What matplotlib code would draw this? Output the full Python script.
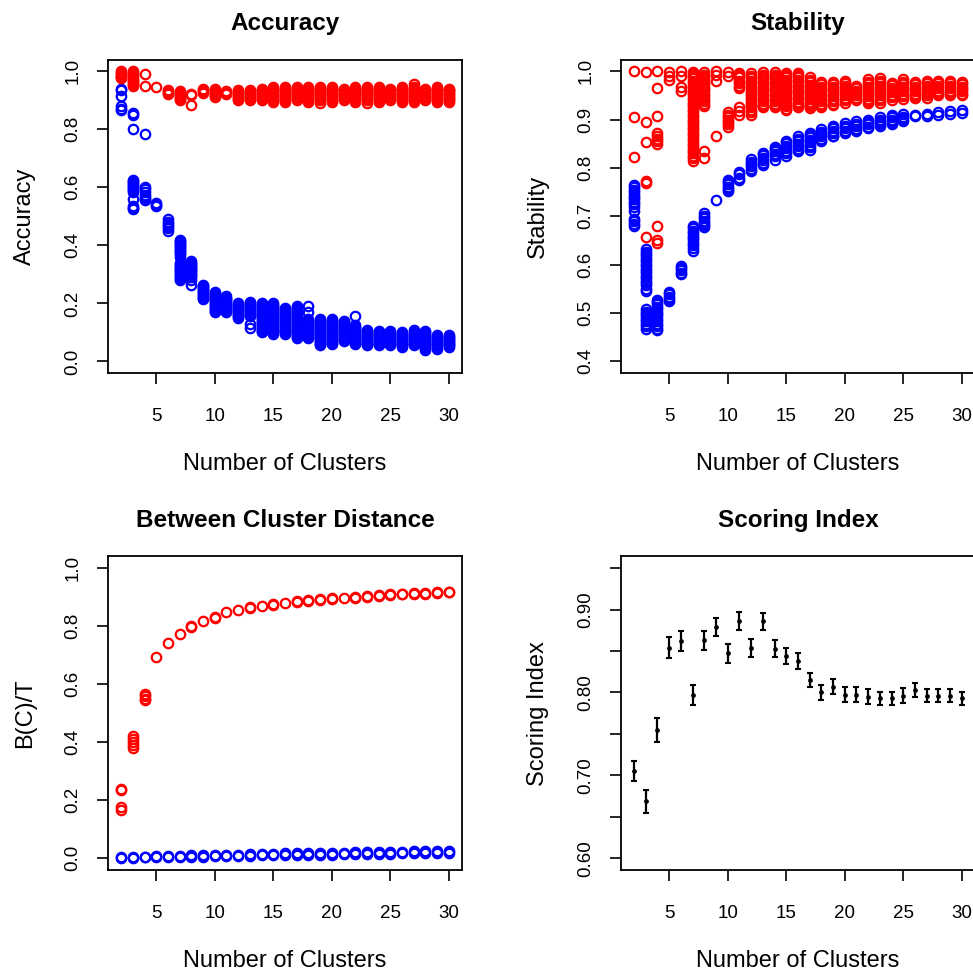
import matplotlib
matplotlib.use("Agg")
import matplotlib.pyplot as plt

plt.rcParams['font.family'] = ['Liberation Sans', 'DejaVu Sans']

# number of clusters on the x axis
ks = list(range(2, 31))

# accuracy, one list of replicate values per k
acc_red = [
    [1.0, 0.995, 0.99, 0.985, 0.98, 0.975],
    [1.0, 0.995, 0.99, 0.985, 0.975, 0.97, 0.965, 0.96, 0.955, 0.95],
    [0.99, 0.95],
    [0.946],
    [0.935, 0.93, 0.925, 0.92],
    [0.93, 0.925, 0.92, 0.915, 0.91, 0.905, 0.90],
    [0.922, 0.918, 0.882],
    [0.94, 0.935, 0.93, 0.925],
    [0.94, 0.935, 0.93, 0.925, 0.92, 0.915, 0.91],
    [0.93, 0.925, 0.92],
    [0.935, 0.93, 0.925, 0.92, 0.915, 0.91, 0.905, 0.90],
    [0.935, 0.93, 0.925, 0.92, 0.915, 0.91, 0.905, 0.90],
    [0.94, 0.935, 0.93, 0.925, 0.92, 0.915, 0.91, 0.905, 0.90],
    [0.945, 0.94, 0.935, 0.93, 0.925, 0.92, 0.915, 0.91, 0.905, 0.90, 0.895],
    [0.945, 0.94, 0.935, 0.93, 0.925, 0.92, 0.915, 0.91, 0.905, 0.90, 0.895],
    [0.945, 0.94, 0.935, 0.93, 0.925, 0.92, 0.915, 0.91, 0.905, 0.90],
    [0.945, 0.94, 0.935, 0.93, 0.925, 0.92, 0.915, 0.91, 0.905, 0.90, 0.895],
    [0.945, 0.94, 0.935, 0.93, 0.925, 0.92, 0.915, 0.91, 0.905, 0.90, 0.89],
    [0.945, 0.94, 0.935, 0.93, 0.925, 0.92, 0.915, 0.91, 0.905, 0.90, 0.895],
    [0.94, 0.935, 0.93, 0.925, 0.92, 0.915, 0.91, 0.905, 0.90],
    [0.945, 0.94, 0.935, 0.93, 0.925, 0.92, 0.915, 0.91, 0.905, 0.90, 0.895],
    [0.945, 0.94, 0.935, 0.93, 0.925, 0.92, 0.915, 0.91, 0.905, 0.90, 0.89],
    [0.945, 0.94, 0.935, 0.93, 0.925, 0.92, 0.915, 0.91, 0.905, 0.90, 0.895],
    [0.94, 0.935, 0.93, 0.925, 0.92, 0.915, 0.91, 0.905, 0.90],
    [0.945, 0.94, 0.935, 0.93, 0.925, 0.92, 0.915, 0.91, 0.905, 0.90, 0.895],
    [0.955, 0.945, 0.94, 0.935, 0.93, 0.925, 0.92, 0.915, 0.91, 0.905, 0.90, 0.895],
    [0.94, 0.935, 0.93, 0.925, 0.92, 0.915, 0.91, 0.905, 0.90],
    [0.945, 0.94, 0.935, 0.93, 0.925, 0.92, 0.915, 0.91, 0.905, 0.90, 0.895],
    [0.94, 0.935, 0.93, 0.925, 0.92, 0.915, 0.91, 0.905, 0.90, 0.895],
]
acc_blue = [
    [0.94, 0.935, 0.915, 0.88, 0.87, 0.865],
    [0.855, 0.85, 0.80, 0.625, 0.62, 0.615, 0.61, 0.605, 0.60, 0.595, 0.59,
     0.585, 0.56, 0.535, 0.53, 0.525],
    [0.785, 0.60, 0.595, 0.585, 0.575, 0.565, 0.56, 0.555],
    [0.545, 0.54, 0.535],
    [0.49, 0.48, 0.475, 0.465, 0.46, 0.45],
    [0.42, 0.415, 0.41, 0.405, 0.40, 0.395, 0.39, 0.385, 0.38, 0.375, 0.37,
     0.36, 0.34, 0.335, 0.33, 0.325, 0.32, 0.315, 0.31, 0.305, 0.30, 0.295,
     0.29, 0.285, 0.28],
    [0.345, 0.34, 0.335, 0.33, 0.325, 0.32, 0.315, 0.31, 0.305, 0.30, 0.295,
     0.29, 0.28, 0.265],
    [0.265, 0.26, 0.255, 0.25, 0.245, 0.24, 0.235, 0.23, 0.225, 0.22, 0.215],
    [0.24, 0.235, 0.23, 0.225, 0.22, 0.215, 0.21, 0.205, 0.20, 0.195, 0.19,
     0.185, 0.18, 0.175, 0.17],
    [0.225, 0.22, 0.215, 0.21, 0.205, 0.20, 0.195, 0.19, 0.185, 0.18, 0.175,
     0.17],
    [0.20, 0.195, 0.19, 0.185, 0.18, 0.175, 0.17, 0.165, 0.16, 0.155, 0.15],
    [0.205, 0.20, 0.195, 0.19, 0.185, 0.18, 0.175, 0.17, 0.165, 0.16, 0.155,
     0.13, 0.115],
    [0.20, 0.195, 0.19, 0.185, 0.18, 0.175, 0.17, 0.165, 0.16, 0.155, 0.15,
     0.145, 0.14, 0.135, 0.13, 0.125, 0.12, 0.115, 0.11, 0.105, 0.10],
    [0.20, 0.195, 0.19, 0.185, 0.18, 0.175, 0.17, 0.165, 0.16, 0.155, 0.15,
     0.145, 0.14, 0.135, 0.13, 0.125, 0.12, 0.115, 0.11, 0.105, 0.10, 0.095],
    [0.185, 0.18, 0.175, 0.17, 0.165, 0.16, 0.155, 0.15, 0.145, 0.14, 0.135,
     0.13, 0.125, 0.12, 0.115, 0.11, 0.105, 0.10, 0.095],
    [0.19, 0.185, 0.18, 0.175, 0.17, 0.165, 0.16, 0.155, 0.15, 0.145, 0.14,
     0.135, 0.13, 0.125, 0.12, 0.115, 0.11, 0.105, 0.10, 0.095, 0.09, 0.085,
     0.08],
    [0.19, 0.17, 0.145, 0.14, 0.135, 0.13, 0.125, 0.12, 0.115, 0.11, 0.105,
     0.10, 0.095, 0.09, 0.085, 0.08],
    [0.145, 0.14, 0.135, 0.13, 0.125, 0.12, 0.115, 0.11, 0.105, 0.10, 0.095,
     0.09, 0.085, 0.08, 0.075, 0.07, 0.065, 0.06, 0.055],
    [0.145, 0.14, 0.135, 0.13, 0.125, 0.12, 0.115, 0.11, 0.105, 0.10, 0.095,
     0.09, 0.085, 0.08, 0.075, 0.07, 0.065, 0.06],
    [0.14, 0.135, 0.13, 0.125, 0.12, 0.115, 0.11, 0.105, 0.10, 0.095, 0.09,
     0.085, 0.08, 0.075, 0.07],
    [0.155, 0.125, 0.12, 0.115, 0.11, 0.105, 0.10, 0.095, 0.09, 0.085, 0.08,
     0.075, 0.07, 0.065, 0.06],
    [0.11, 0.105, 0.10, 0.095, 0.09, 0.085, 0.08, 0.075, 0.07, 0.065, 0.06,
     0.055],
    [0.105, 0.10, 0.095, 0.09, 0.085, 0.08, 0.075, 0.07, 0.065, 0.06, 0.057],
    [0.105, 0.10, 0.095, 0.09, 0.085, 0.08, 0.075, 0.07, 0.065, 0.06, 0.055],
    [0.10, 0.095, 0.09, 0.085, 0.08, 0.075, 0.07, 0.065, 0.06, 0.055, 0.05],
    [0.107, 0.10, 0.095, 0.09, 0.085, 0.08, 0.075, 0.07, 0.065, 0.06, 0.055],
    [0.105, 0.10, 0.095, 0.09, 0.085, 0.08, 0.075, 0.07, 0.065, 0.06, 0.055,
     0.05, 0.045, 0.04],
    [0.09, 0.085, 0.08, 0.075, 0.07, 0.065, 0.06, 0.055, 0.05, 0.044],
    [0.09, 0.085, 0.08, 0.075, 0.07, 0.065, 0.06, 0.055, 0.05],
]

# stability
stab_red = [
    [1.0, 0.905, 0.823],
    [0.998, 0.895, 0.854, 0.773, 0.769, 0.658],
    [1.0, 0.965, 0.907, 0.872, 0.866, 0.86, 0.855, 0.85, 0.68, 0.652, 0.645],
    [0.998, 0.99, 0.982],
    [1.0, 0.99, 0.968, 0.958],
    [0.998, 0.995, 0.99, 0.985, 0.98, 0.975, 0.97, 0.965, 0.96, 0.955, 0.95,
     0.945, 0.94, 0.935, 0.93, 0.925, 0.92, 0.915, 0.91, 0.905, 0.90, 0.895,
     0.89, 0.885, 0.88, 0.875, 0.87, 0.865, 0.86, 0.855, 0.85, 0.845, 0.84,
     0.835, 0.83, 0.825, 0.82, 0.815],
    [0.998, 0.993, 0.988, 0.983, 0.978, 0.973, 0.968, 0.963, 0.958, 0.953,
     0.948, 0.943, 0.938, 0.933, 0.928, 0.836, 0.82],
    [1.0, 0.992, 0.98, 0.865],
    [0.998, 0.99, 0.915, 0.91, 0.905, 0.90, 0.895, 0.89, 0.885],
    [0.997, 0.992, 0.987, 0.98, 0.975, 0.97, 0.965, 0.925, 0.918, 0.91],
    [0.997, 0.99, 0.985, 0.98, 0.975, 0.97, 0.965, 0.96, 0.955, 0.95, 0.945,
     0.94, 0.935, 0.93, 0.925, 0.92, 0.915, 0.91],
    [0.998, 0.993, 0.988, 0.983, 0.978, 0.973, 0.968, 0.963, 0.958, 0.953,
     0.948, 0.943, 0.938, 0.933, 0.928, 0.925],
    [0.998, 0.993, 0.988, 0.983, 0.978, 0.973, 0.968, 0.963, 0.958, 0.953,
     0.948, 0.943, 0.938, 0.933, 0.928, 0.925],
    [0.997, 0.992, 0.987, 0.982, 0.977, 0.972, 0.967, 0.962, 0.957, 0.952,
     0.947, 0.942, 0.937, 0.932, 0.927, 0.922, 0.92],
    [0.997, 0.992, 0.987, 0.982, 0.977, 0.972, 0.967, 0.962, 0.957, 0.952,
     0.947, 0.942, 0.937, 0.932, 0.927, 0.925],
    [0.987, 0.982, 0.977, 0.972, 0.967, 0.962, 0.957, 0.952, 0.947, 0.942,
     0.937, 0.932, 0.927, 0.924],
    [0.978, 0.973, 0.968, 0.963, 0.958, 0.953, 0.948, 0.943, 0.938, 0.933,
     0.928, 0.925],
    [0.978, 0.973, 0.968, 0.963, 0.958, 0.953, 0.948, 0.943, 0.938, 0.933,
     0.93],
    [0.98, 0.975, 0.97, 0.965, 0.96, 0.955, 0.95, 0.945, 0.94, 0.935],
    [0.97, 0.965, 0.96, 0.955, 0.95, 0.945, 0.94],
    [0.983, 0.978, 0.973, 0.968, 0.963, 0.958, 0.953, 0.948, 0.943, 0.938,
     0.935],
    [0.985, 0.98, 0.975, 0.97, 0.965, 0.96, 0.955, 0.95, 0.945, 0.94, 0.935],
    [0.976, 0.971, 0.966, 0.961, 0.956, 0.951, 0.946, 0.94],
    [0.983, 0.978, 0.973, 0.968, 0.963, 0.958, 0.953, 0.948, 0.942],
    [0.978, 0.973, 0.968, 0.963, 0.958, 0.953, 0.948, 0.945],
    [0.98, 0.975, 0.97, 0.965, 0.96, 0.955, 0.95, 0.945],
    [0.98, 0.975, 0.97, 0.965, 0.96, 0.955, 0.95],
    [0.98, 0.975, 0.97, 0.965, 0.96, 0.955, 0.95],
    [0.978, 0.973, 0.968, 0.963, 0.958, 0.953, 0.95],
]
stab_blue = [
    [0.765, 0.76, 0.755, 0.75, 0.745, 0.74, 0.735, 0.73, 0.725, 0.72, 0.71,
     0.695, 0.69, 0.685, 0.68],
    [0.632, 0.627, 0.622, 0.617, 0.612, 0.607, 0.602, 0.597, 0.592, 0.587,
     0.582, 0.577, 0.572, 0.567, 0.562, 0.557, 0.55, 0.545,
     0.508, 0.503, 0.498, 0.493, 0.488, 0.483, 0.478, 0.473, 0.468],
    [0.528, 0.523, 0.518, 0.513, 0.508, 0.503, 0.498, 0.493, 0.488, 0.483,
     0.478, 0.473, 0.468, 0.465],
    [0.544, 0.539, 0.534, 0.529, 0.524],
    [0.598, 0.593, 0.588, 0.583, 0.58],
    [0.68, 0.675, 0.67, 0.665, 0.66, 0.655, 0.65, 0.645, 0.64, 0.635, 0.628],
    [0.706, 0.701, 0.696, 0.691, 0.686, 0.681, 0.677],
    [0.734],
    [0.776, 0.771, 0.766, 0.761, 0.756, 0.753],
    [0.792, 0.787, 0.78, 0.776],
    [0.818, 0.813, 0.808, 0.803, 0.798, 0.793],
    [0.831, 0.826, 0.821, 0.816, 0.811, 0.805],
    [0.844, 0.839, 0.834, 0.829, 0.824, 0.817],
    [0.856, 0.851, 0.846, 0.841, 0.836, 0.831, 0.824],
    [0.865, 0.86, 0.855, 0.85, 0.845, 0.84, 0.836],
    [0.873, 0.868, 0.863, 0.858, 0.853, 0.848, 0.843, 0.838],
    [0.88, 0.875, 0.87, 0.865, 0.86, 0.855],
    [0.887, 0.882, 0.877, 0.872, 0.867, 0.865],
    [0.892, 0.887, 0.882, 0.877, 0.872],
    [0.896, 0.891, 0.886, 0.881, 0.877],
    [0.90, 0.895, 0.89, 0.885, 0.883],
    [0.905, 0.90, 0.895, 0.89, 0.886],
    [0.91, 0.905, 0.90, 0.895, 0.89],
    [0.911, 0.906, 0.901, 0.897],
    [0.91, 0.907],
    [0.912, 0.908],
    [0.915, 0.91],
    [0.918, 0.912],
    [0.92, 0.914],
]

# between cluster distance B(C)/T
bct_red = [
    [0.24, 0.235, 0.178, 0.165], [0.42, 0.41, 0.40, 0.39, 0.38],
    [0.565, 0.558, 0.55, 0.546], [0.693], [0.741], [0.773],
    [0.797, 0.80], [0.816], [0.828, 0.832], [0.847], [0.856],
    [0.862, 0.865], [0.869], [0.872, 0.875], [0.879], [0.883, 0.886],
    [0.887, 0.89], [0.89, 0.893], [0.893, 0.896], [0.896], [0.898, 0.901],
    [0.90, 0.903], [0.904, 0.906], [0.907, 0.909], [0.909, 0.911],
    [0.91, 0.913], [0.912, 0.915], [0.913, 0.916], [0.916, 0.919],
]
bct_blue = [
    [0.002, 0.004], [0.002, 0.004], [0.003, 0.005], [0.004, 0.008],
    [0.004, 0.007], [0.005, 0.009], [0.006, 0.010], [0.006, 0.010],
    [0.007, 0.012], [0.008, 0.013], [0.009, 0.013], [0.009, 0.014],
    [0.010, 0.015], [0.011, 0.016], [0.011, 0.017], [0.012, 0.017],
    [0.013, 0.018], [0.013, 0.019], [0.013, 0.019], [0.014, 0.020],
    [0.015, 0.021], [0.015, 0.021], [0.016, 0.022], [0.016, 0.023],
    [0.017, 0.023], [0.017, 0.024], [0.018, 0.024], [0.018, 0.025],
    [0.019, 0.026],
]

# scoring index, mean and half width of the error bar
score_mean = [0.705, 0.669, 0.755, 0.854, 0.862, 0.797, 0.863, 0.879, 0.847,
              0.886, 0.854, 0.886, 0.853, 0.844, 0.838, 0.815, 0.800, 0.807,
              0.797, 0.797, 0.795, 0.793, 0.793, 0.796, 0.803, 0.796, 0.796,
              0.796, 0.793]
score_err = [0.012, 0.014, 0.0144, 0.013, 0.0124, 0.0116, 0.0116, 0.0114, 0.011,
             0.011, 0.011, 0.0104, 0.010, 0.0096, 0.0096, 0.0084, 0.0096, 0.009,
             0.009, 0.009, 0.0088, 0.008, 0.0076, 0.009, 0.0084, 0.008, 0.008,
             0.008, 0.008]

RED = '#ff0000'
BLUE = '#0000ff'


def scatter_cols(ax, vals, color):
    # one open circle per replicate, stacked at each k
    xs, ys = [], []
    for k, col in zip(ks, vals):
        xs += [k] * len(col)
        ys += col
    ax.plot(xs, ys, 'o', ls='none', ms=6.8, mfc='none', mec=color, mew=1.6)


def setup(ax, title, ylabel, ylim, yticks, ylabels):
    ax.set_xlim(0.88, 31.12)
    ax.set_ylim(*ylim)
    ax.set_xticks([5, 10, 15, 20, 25, 30])
    ax.set_yticks(yticks)
    ax.set_yticklabels(ylabels, rotation=90, va='center')
    for s in ax.spines.values():
        s.set_linewidth(1.3)
    ax.tick_params(length=8, width=1.2, labelsize=13.5)
    ax.tick_params(axis='x', pad=17)
    ax.tick_params(axis='y', pad=11)
    ax.text(0.5, 1.115, title, transform=ax.transAxes, ha='center',
            va='center', fontsize=17.5, fontweight='bold')
    ax.text(0.5, -0.29, 'Number of Clusters', transform=ax.transAxes,
            ha='center', va='center', fontsize=17)
    ax.text(-0.235, 0.5, ylabel, transform=ax.transAxes, ha='center',
            va='center', rotation=90, fontsize=17)


fig = plt.figure(figsize=(9.73, 9.73), dpi=100)
w, h = 0.3638, 0.3222
ax1 = fig.add_axes([0.111, 0.6166, w, h])
ax2 = fig.add_axes([0.6382, 0.6166, w, h])
ax3 = fig.add_axes([0.111, 0.1059, w, h])
ax4 = fig.add_axes([0.6382, 0.1059, w, h])

t02 = [0.0, 0.2, 0.4, 0.6, 0.8, 1.0]
scatter_cols(ax1, acc_blue, BLUE)
scatter_cols(ax1, acc_red, RED)
setup(ax1, 'Accuracy', 'Accuracy', (-0.04, 1.04), t02,
      ['%.1f' % t for t in t02])

t01 = [0.4, 0.5, 0.6, 0.7, 0.8, 0.9, 1.0]
scatter_cols(ax2, stab_blue, BLUE)
scatter_cols(ax2, stab_red, RED)
setup(ax2, 'Stability', 'Stability', (0.376, 1.024), t01,
      ['%.1f' % t for t in t01])

scatter_cols(ax3, bct_blue, BLUE)
scatter_cols(ax3, bct_red, RED)
setup(ax3, 'Between Cluster Distance', 'B(C)/T', (-0.04, 1.04), t02,
      ['%.1f' % t for t in t02])

# scoring index with error bars
ax4.errorbar(ks, score_mean, yerr=score_err, fmt='o', color='black', ms=2.4,
             elinewidth=1.6, capsize=2.5, capthick=1.5)
t05 = [0.60, 0.65, 0.70, 0.75, 0.80, 0.85, 0.90, 0.95]
setup(ax4, 'Scoring Index', 'Scoring Index', (0.586, 0.964), t05,
      ['0.60', '', '0.70', '', '0.80', '', '0.90', ''])

fig.savefig('out.png', dpi=100)
